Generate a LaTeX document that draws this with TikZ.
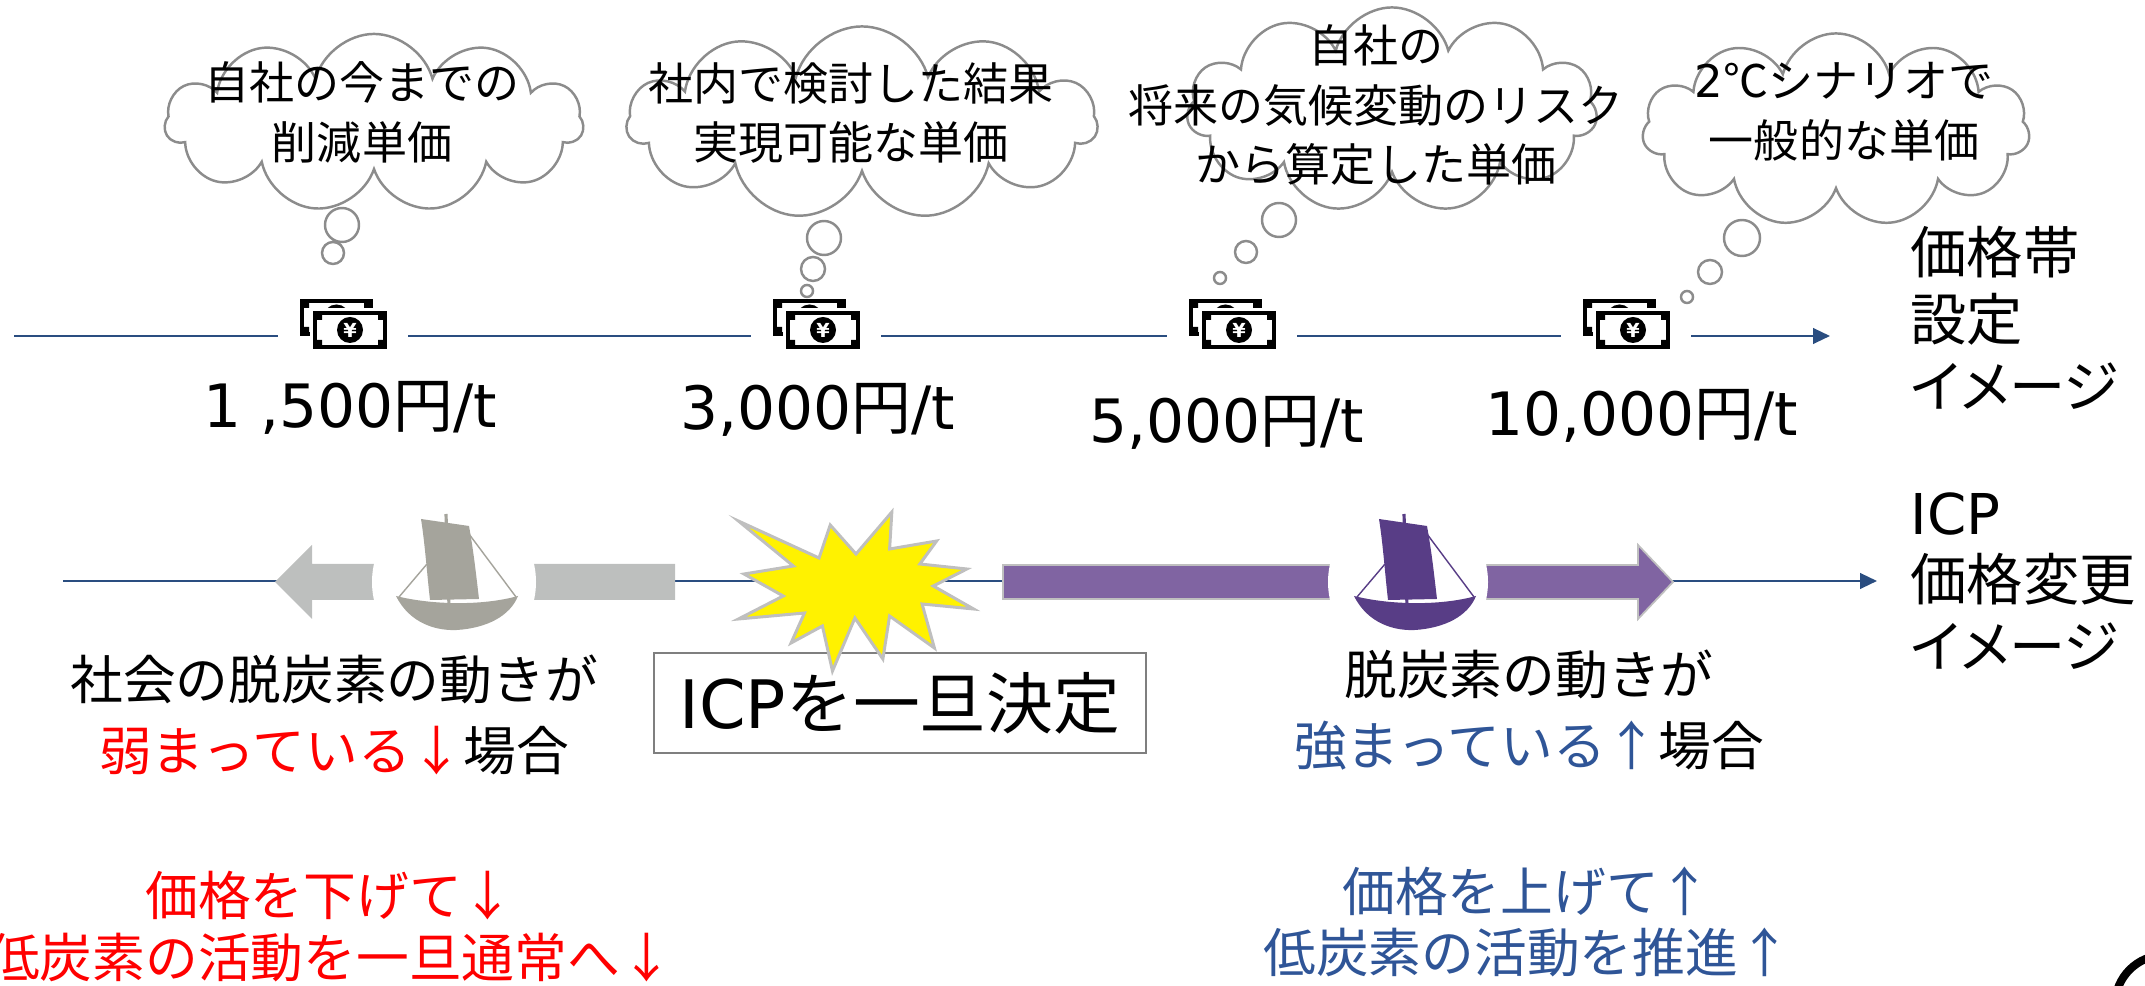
\documentclass[tikz,border=0pt]{standalone}
\usepackage{fontspec}
\setmainfont{Noto Sans CJK JP}
\newfontfamily\latin{DejaVu Sans}
\usetikzlibrary{shapes.symbols,arrows.meta}
\definecolor{axisblue}{HTML}{2A4D80}
\definecolor{textblue}{HTML}{2F5597}
\definecolor{cloudgrey}{HTML}{8C8C8C}
\definecolor{boxgrey}{HTML}{7F7F7F}
\definecolor{arrowgrey}{HTML}{BDBFBE}
\definecolor{boatgrey}{HTML}{A5A49C}
\definecolor{arrowpurple}{HTML}{8064A2}
\definecolor{boatpurple}{HTML}{583D86}
\definecolor{burstgrey}{HTML}{BFBFBF}
\newcommand{\en}[1]{{\latin #1}}
\tikzset{
  banconota/.pic={
    %dietro
    \fill[black] (-43,-36) rectangle (30,1);
    \fill[white] (-39,-32) rectangle (26,-3);
    \fill[black] (-39,-32) rectangle (-34,-27) (26,-32) rectangle (21,-27)
                 (-39,-3) rectangle (-34,-8) (26,-3) rectangle (21,-8);
    \fill[black] (-6.5,-17.5) circle (13);
    %davanti
    \fill[white] (-33,-27) rectangle (47,17);
    \fill[black] (-30,-24) rectangle (44,14);
    \fill[white] (-26,-20) rectangle (40,10);
    \fill[black] (-26,-20) rectangle (-21,-15) (40,-20) rectangle (35,-15)
                 (-26,10) rectangle (-21,5) (40,10) rectangle (35,5);
    \fill[black] (7,-5) circle (13);
    \node[white, inner sep=0pt, font=\latin\bfseries\fontsize{5.5pt}{6pt}\selectfont] at (7,-5) {¥};
  },
  barca/.pic={
    \fill (-56,22) .. controls (-42,50) and (-15,57) .. (5,56)
          .. controls (35,54) and (58,42) .. (66,22)
          .. controls (30,32) and (-20,31) .. cycle;
    \fill (-31,-55) -- (17,-48) .. controls (22,-20) and (24,0) .. (27,25)
          -- (-22,26) .. controls (-25,0) and (-27,-30) .. cycle;
    \draw[line width=0.9pt] (-6,-60) -- (-3,32);
    \draw[line width=0.4pt] (-53,23) -- (-25,-10) (17,-40) -- (64,23);
  },
}
\begin{document}
\begin{tikzpicture}[x=0.01cm, y=-0.01cm,
    asse/.style={axisblue, line width=0.7pt, -{Triangle[length=4.8pt,width=4.4pt]}},
    sfondo/.style={fill=white, inner sep=0pt, minimum width=1.3cm, minimum height=1.2cm},
    nuvola/.style={cloud, cloud puffs=11, cloud ignores aspect, draw=cloudgrey, line width=0.7pt},
    bolla/.style={draw=cloudgrey, line width=0.7pt},
    pensiero/.style={inner sep=0pt, align=center, font=\fontsize{12.8pt}{17pt}\selectfont},
    prezzo/.style={inner sep=0pt, font=\fontsize{17pt}{20pt}\selectfont},
    laterale/.style={inner sep=0pt, anchor=west, align=left,
      font=\fontsize{16pt}{19pt}\selectfont\addfontfeatures{RawFeature=+palt}},
    centrale/.style={inner sep=0pt, align=center, font=\fontsize{15pt}{20pt}\selectfont},
    sotto/.style={inner sep=0pt, align=center, font=\fontsize{15pt}{17.6pt}\selectfont},
    riquadro/.style={draw=boxgrey, line width=0.6pt, fill=white, inner sep=0pt,
      minimum width=4.92cm, minimum height=1cm, font=\fontsize{19pt}{22pt}\selectfont},
  ]
  \useasboundingbox (0,0) rectangle (2145,986);
  \clip (0,0) rectangle (2145,986);
  %assi
  \coordinate (a1) at (14,336);
  \coordinate (a2) at (1830,336);
  \coordinate (b1) at (63,581);
  \coordinate (b2) at (1877,581);
  \draw[asse] (a1) -- (a2);
  \draw[asse] (b1) -- (b2);
  %banconote
  \node[sfondo] (m1) at (343,335) {};
  \node[sfondo] (m2) at (816,335) {};
  \node[sfondo] (m3) at (1232,335) {};
  \node[sfondo] (m4) at (1626,335) {};
  \foreach \m in {m1,m2,m3,m4} \pic at (\m) {banconota};
  %nuvole
  \node[nuvola, minimum width=4.18cm, minimum height=1.78cm] (n1) at (374,123) {};
  \node[nuvola, minimum width=4.7cm, minimum height=1.93cm] (n2) at (862,123) {};
  \node[nuvola, minimum width=4.1cm, minimum height=2.05cm] (n3) at (1392,110) {};
  \node[nuvola, minimum width=3.87cm, minimum height=1.93cm] (n4) at (1836,130) {};
  \draw[bolla] (342,225) circle (17) (333,253) circle (11);
  \draw[bolla] (824,238) circle (17) (813,269) circle (12) (807,291) circle (6);
  \draw[bolla] (1279,220) circle (17) (1246,252) circle (11) (1220,278) circle (6);
  \draw[bolla] (1742,238) circle (18) (1710,272) circle (12) (1687,297) circle (6);
  \node[pensiero] (t1) at (362,112) {自社の今までの\\削減単価};
  \node[pensiero] (t2) at (851,113) {社内で検討した結果\\実現可能な単価};
  \node[pensiero] (t3) at (1376,105) {自社の\\将来の気候変動のリスク\\から算定した単価};
  \node[pensiero] (t4) at (1844,112) {\en{2}℃シナリオで\\一般的な単価};
  %prezzi
  \node[prezzo] (p1) at (350,408) {\en{1 ,500}円\en{/t}};
  \node[prezzo] (p2) at (818,410) {\en{3,000}円\en{/t}};
  \node[prezzo] (p3) at (1227,423) {\en{5,000}円\en{/t}};
  \node[prezzo] (p4) at (1642,416) {\en{10,000}円\en{/t}};
  \node[laterale] (l1) at (1910,318) {価格帯\\設定\\イメージ};
  \node[laterale] (l2) at (1910,581) {\en{ICP}\\価格変更\\イメージ};
  %frecce
  \fill[arrowgrey] (675,564) -- (312,564) -- (312,545) -- (275,582)
    -- (312,619) -- (312,600) -- (675,600) -- cycle;
  \filldraw[fill=arrowpurple, draw=burstgrey, line width=0.5pt] (1003,565) -- (1638,565)
    -- (1638,545) -- (1673,582) -- (1638,619) -- (1638,599) -- (1003,599) -- cycle;
  \fill[white] (454,582) circle (82) (1408,582) circle (80);
  \pic[color=boatgrey] at (452,574) {barca};
  \pic[color=boatpurple] at (1410,574) {barca};
  %riquadro e stella
  \node[riquadro] (icp) at (900,703) {\en{ICP}を一旦決定};
  \begin{scope}[shift={(856,594)}, xscale=1.12]
    \filldraw[fill=yellow, draw=burstgrey, line width=0.85pt]
      (-105,-73) -- (-33,-36) -- (-23,-69) -- (0,-40) -- (32,-82) -- (30,-45)
      -- (72,-53) -- (57,-30) -- (99,-25) -- (69,-8) -- (105,15) -- (59,10)
      -- (70,54) -- (30,22) -- (24,65) -- (-1,24) -- (-21,77) -- (-30,32)
      -- (-58,49) -- (-46,19) -- (-105,25) -- (-65,2) -- (-100,-20) -- (-56,-28) -- cycle;
  \end{scope}
  %testi
  \node[centrale] (w1) at (334,715) {社会の脱炭素の動きが\\{\color{red}弱まっている↓}場合};
  \node[centrale] (w2) at (1529,710) {脱炭素の動きが\\{\color{textblue}強まっている↑}場合};
  \node[sotto, red] (d1) at (330,927) {価格を下げて↓\\低炭素の活動を一旦通常へ↓};
  \node[sotto, textblue] (d2) at (1527,922) {価格を上げて↑\\低炭素の活動を推進↑};
  \draw[line width=2.3pt] (2165,1005) circle (50);
\end{tikzpicture}
\end{document}
